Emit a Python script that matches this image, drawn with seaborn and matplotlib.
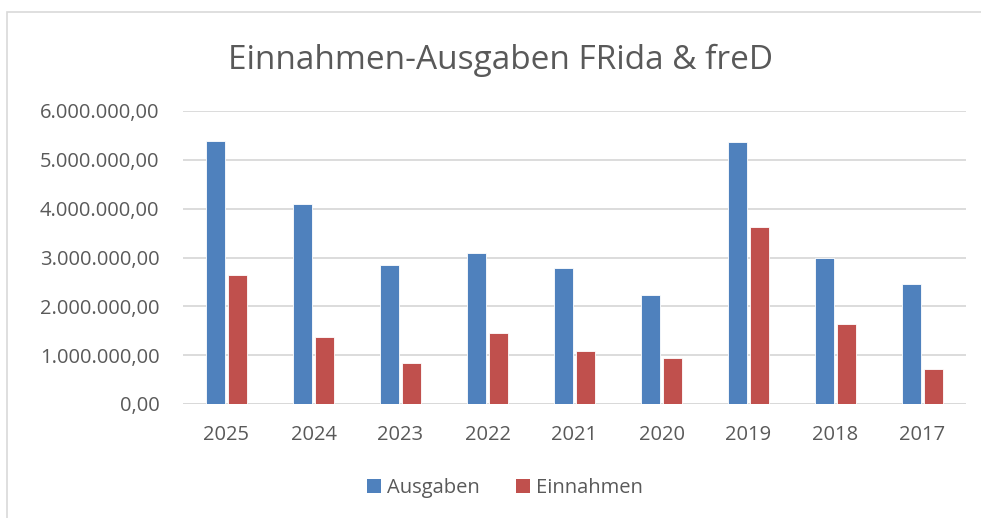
import matplotlib
matplotlib.use("Agg")
import matplotlib.pyplot as plt
from matplotlib.ticker import FuncFormatter
from matplotlib.patches import Rectangle, Patch
import seaborn as sns
import pandas as pd

years = ["2025", "2024", "2023", "2022", "2021", "2020", "2019", "2018", "2017"]
ausgaben = [5390000, 4100000, 2840000, 3090000, 2790000, 2240000, 5360000, 2990000, 2460000]
einnahmen = [2640000, 1370000, 836000, 1460000, 1090000, 940000, 3630000, 1640000, 710000]
series = ["Ausgaben", "Einnahmen"]
colors = ["#4F81BD", "#C0504D"]
title = "Einnahmen-Ausgaben FRida & freD"

df = pd.DataFrame({
    "Jahr": years * 2,
    "Wert": ausgaben + einnahmen,
    "Reihe": [series[0]] * len(years) + [series[1]] * len(years),
})

sns.set_theme(style="white")
plt.rcParams["font.family"] = ["Open Sans", "DejaVu Sans"]
txt = "#595959"

fig = plt.figure(figsize=(9.81, 5.18), dpi=100)
ax = fig.add_axes([183 / 981, (518 - 404) / 518, (966 - 183) / 981, (404 - 111) / 518])

sns.barplot(data=df, x="Jahr", y="Wert", hue="Reihe", order=years, hue_order=series,
            palette=colors, width=0.51, gap=0.12, ax=ax, legend=False,
            edgecolor="white", linewidth=0.6, saturation=1, zorder=3)

ax.set_ylim(0, 6000000)
ax.set_yticks(range(0, 6000001, 1000000))

def fmt(v, pos):
    s = f"{v:,.2f}"
    return s.replace(",", "X").replace(".", ",").replace("X", ".")

ax.yaxis.set_major_formatter(FuncFormatter(fmt))
ax.grid(axis="y", color="#D9D9D9", linewidth=1.3, zorder=0)
ax.set_axisbelow(True)
for s in ["top", "right", "left", "bottom"]:
    ax.spines[s].set_visible(False)
ax.axhline(0, color="#D9D9D9", linewidth=1.3, zorder=1)
ax.set_xlabel("")
ax.set_ylabel("")
ax.tick_params(axis="y", labelsize=14.5, colors=txt, pad=17, length=0)
ax.tick_params(axis="x", labelsize=14.5, colors=txt, pad=15, length=0)

fig.text(501 / 981, 1 - 60 / 518, title, ha="center", va="center",
         fontsize=24, color=txt)

handles = [Patch(facecolor=c, edgecolor="none") for c in colors]
fig.legend(handles, series, loc="center", bbox_to_anchor=(505 / 981, 1 - 488 / 518),
           ncol=2, frameon=False, fontsize=14.5, labelcolor=txt,
           handlelength=0.7, handleheight=0.7, handletextpad=0.3, columnspacing=1.8)

fig.patches.append(Rectangle((7 / 981, -0.01), 1.0, 1 - 12 / 518 + 0.01,
                             transform=fig.transFigure, fill=False,
                             edgecolor="#D9D9D9", linewidth=1.2))

fig.savefig("out.png", dpi=100, facecolor="white")
